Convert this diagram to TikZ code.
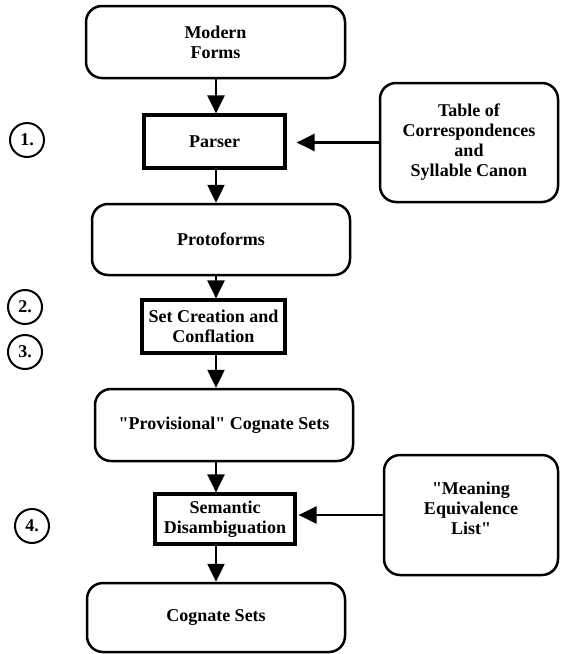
\documentclass[tikz,border=0pt]{standalone}
\usepackage{fontspec}
\setmainfont{Liberation Serif}[Ligatures=TeXOff]
\usetikzlibrary{arrows.meta,calc}
\newcommand{\qq}{\symbol{34}}
\begin{document}
\begin{tikzpicture}[x=1pt,y=-1pt,
  font=\fontsize{18}{20}\selectfont\bfseries,
  rbox/.style={draw,line width=2.5pt,rounded corners=16pt,align=center,inner sep=0pt},
  sbox/.style={draw,line width=3.2pt,align=center,inner sep=0pt},
  num/.style={draw,circle,line width=2pt,minimum size=34pt,inner sep=0pt,font=\fontsize{18}{20}\selectfont\bfseries},
  arr/.style={line width=2.5pt,-{Triangle[length=18pt,width=17pt]}}]
\useasboundingbox (0,0) rectangle (561,654);
\coordinate (col) at (216,0);
\node[rbox,minimum width=259pt,minimum height=72pt] (mf) at (215.5,42) {Modern\\Forms};
\node[sbox,minimum width=141pt,minimum height=53pt] (parser) at (214.5,141.5) {Parser};
\node[rbox,minimum width=178pt,minimum height=119pt] (table) at (469,142.5) {Table of\\Correspondences\\and\\Syllable Canon};
\node[rbox,minimum width=258pt,minimum height=71pt] (proto) at (221,239.5) {Protoforms};
\node[sbox,minimum width=143pt,minimum height=53pt] (set) at (213.5,326.5) {Set Creation and\\Conflation};
\node[rbox,minimum width=258pt,minimum height=72pt] (prov) at (224,425) {\qq Provisional\qq{} Cognate Sets};
\node[sbox,minimum width=140pt,minimum height=50pt] (sem) at (225,519) {Semantic\\Disambiguation};
\node[rbox,minimum width=174pt,minimum height=120pt] (mel) at (471,515) {\qq Meaning\\Equivalence\\List\qq\\[-6pt]};
\node[rbox,minimum width=258pt,minimum height=69pt] (cog) at (216,617.5) {Cognate Sets};
\node[num] (n1) at (27,140) {1.};
\node[num] (n2) at (25,307) {2.};
\node[num] (n3) at (25,352) {3.};
\node[num] (n4) at (32,526) {4.};
\draw[arr] (mf.south -| col) -- (parser.north -| col);
\draw[arr] (parser.south -| col) -- (proto.north -| col);
\draw[arr] (proto.south -| col) -- (set.north -| col);
\draw[arr] (set.south -| col) -- (prov.north -| col);
\draw[arr] (prov.south -| col) -- (sem.north -| col);
\draw[arr] (sem.south -| col) -- (cog.north -| col);
\draw[arr,shorten >=10pt] (table.west) -- (parser.east |- table.west);
\draw[arr,shorten >=2pt] (mel.west) -- (sem.east |- mel.west);
\end{tikzpicture}
\end{document}
